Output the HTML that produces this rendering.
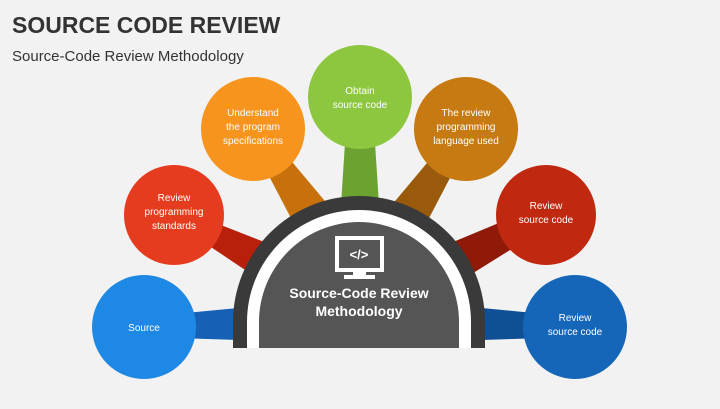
<!DOCTYPE html>
<html><head><meta charset="utf-8"><style>
body{margin:0;width:720px;height:404px;background:#f2f2f2;overflow:hidden;font-family:"Liberation Sans",sans-serif}
</style></head><body>
<svg width="720" height="404" viewBox="0 0 720 404" xmlns="http://www.w3.org/2000/svg" font-family="Liberation Sans, sans-serif">
<rect width="720" height="404" fill="#f2f2f2"/>
<text x="12" y="33" font-size="23" font-weight="bold" fill="#333">SOURCE CODE REVIEW</text>
<text x="12" y="61" font-size="15" fill="#333">Source-Code Review Methodology</text>
<g>
<polygon points="144,317 144,337 300,342 300,302" fill="#1660b5"/>
<polygon points="170,205 178,225 290,300 315,262" fill="#b8200c"/>
<polygon points="245,130 262,126 345,225 305,245" fill="#c8700c"/>
<polygon points="348,97 372,97 380,220 340,220" fill="#6ca330"/>
<polygon points="458,126 475,130 415,245 375,225" fill="#9a5a0c"/>
<polygon points="542,205 550,225 430,300 405,262" fill="#8f1a08"/>
<polygon points="575,317 575,337 420,342 420,302" fill="#0f4f95"/>
</g>
<circle cx="144" cy="327" r="52" fill="#1e88e5"/>
<circle cx="174" cy="215" r="50" fill="#e53c1f"/>
<circle cx="253" cy="129" r="52" fill="#f7941d"/>
<circle cx="360" cy="97" r="52" fill="#8dc63f"/>
<circle cx="466" cy="129" r="52" fill="#c77a12"/>
<circle cx="546" cy="215" r="50" fill="#c0280f"/>
<circle cx="575" cy="327" r="52" fill="#1565b8"/>
<path d="M233 348 V322 A126 126 0 0 1 485 322 V348 Z" fill="#3a3a3a"/>
<path d="M247 348 V322 A112 112 0 0 1 471 322 V348 Z" fill="#fff"/>
<path d="M259 348 V322 A100 100 0 0 1 459 322 V348 Z" fill="#555"/>
<rect x="337" y="238" width="45" height="32" fill="none" stroke="#fff" stroke-width="4"/>
<rect x="353" y="270" width="13" height="6" fill="#fff"/>
<rect x="344" y="275" width="31" height="4" fill="#fff"/>
<text x="359" y="259" font-size="13" font-weight="bold" fill="#fff" text-anchor="middle">&lt;/&gt;</text>
<g fill="#fff" font-size="14" font-weight="bold" text-anchor="middle">
<text x="359" y="298">Source-Code Review</text>
<text x="359" y="316">Methodology</text>
</g>
<g fill="#fff" font-size="10" text-anchor="middle">
<text x="144" y="331">Source</text>
<text x="174" y="201">Review</text><text x="174" y="215">programming</text><text x="174" y="229">standards</text>
<text x="253" y="116">Understand</text><text x="253" y="130">the program</text><text x="253" y="144">specifications</text>
<text x="360" y="94">Obtain</text><text x="360" y="108">source code</text>
<text x="466" y="116">The review</text><text x="466" y="130">programming</text><text x="466" y="144">language used</text>
<text x="546" y="209">Review</text><text x="546" y="223">source code</text>
<text x="575" y="321">Review</text><text x="575" y="335">source code</text>
</g>
</svg>
</body></html>
